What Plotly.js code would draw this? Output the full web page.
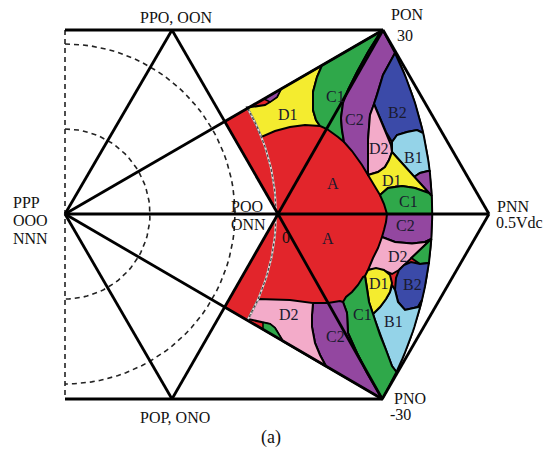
<!DOCTYPE html>
<html><head><meta charset="utf-8">
<script src="https://cdn.plot.ly/plotly-3.0.1.min.js"></script>
<style>html,body{margin:0;padding:0;background:#fff}#chart{width:545px;height:462px}</style>
</head><body><div id="chart"></div>
<script>
// ---- key vertices of the space-vector hexagon (image units, y downward) ----
const PPP = [65, 214];
const CEN = [278, 214];
const PPO = [172, 30];
const PON = [383, 30];
const PNN = [489, 214];
const PNO = [382.2, 399];
const POP = [172, 399];
const R_OUT = 367.2, R_MID = 211, R_IN1 = 85, R_IN2 = 170;

// colours
const RED = '#e2252b', YEL = '#f4ec2f', GRN = '#2fa84a', PUR = '#9347a0',
      BLU = '#3b4aa8', LBL = '#94d3e8', PNK = '#f3abc9';

function arcByY(r, y0, y1, n) {
  n = n || 24; const out = [];
  for (let i = 0; i <= n; i++) {
    const y = y0 + (y1 - y0) * i / n;
    out.push([PPP[0] + Math.sqrt(Math.max(0, r * r - (y - PPP[1]) * (y - PPP[1]))), y]);
  }
  return out;
}
function arcByAngle(r, a0, a1, n) {
  n = n || 60; const out = [];
  for (let i = 0; i <= n; i++) {
    const a = (a0 + (a1 - a0) * i / n) * Math.PI / 180;
    out.push([PPP[0] + r * Math.cos(a), PPP[1] + r * Math.sin(a)]);
  }
  return out;
}

// ---- region outlines ----
const sectorLeftTop = [224.7, 121.6];
const sectorLeftBot = [224.6, 307.2];

const upperD1 = [[247.5,107.6],[252,107],[265,105],[270,102],[277,97],[281,89],[322,65.3],[317,77],[313,92],[313,110],[316,120],[320,126],[305,125],[290,127],[275,131],[261.4,137]];
const upperPurSliver = [[264,99],[281,89],[277,97],[270,102]];
const upperC1 = [[322,65.3],[381,31.2],[368,52],[357,72],[348,90],[343,103],[341,118],[342,130],[344,142],[338,137],[327,129],[320,126],[316,120],[313,110],[313,92],[317,77]];
const upperC2tail = [[383,75],[377,95],[374,104],[370,115],[368,140],[368,175],[362,165],[352,151],[346,144],[344,142],[342,130],[341,118],[343,103],[348,90],[357,72],[368,52],[381,31.2]];
const upperB2tail = [[417,130],[407,132],[397,135],[392,142],[386,132],[380,118],[374,104],[377,95],[383,75]];
const upperD2 = [[374,104],[380,118],[386,132],[391,145],[392,152],[389,160],[385,167],[378,172],[368,175],[368,140],[370,115]];
const upperB1head = [[392,152],[392,142],[397,135],[407,132],[417,130]];
const upperB1tail = [[428,171],[420,173],[414,177]];
const upperPurRhead = [[414,177],[420,173],[428,171]];
const upperD1R = [[368,175],[378,172],[385,167],[389,160],[392,152],[429,193],[415,188],[402,186],[388,188],[380,195],[374,185]];
const upperC1Rhead = [[380,195],[388,188],[402,186],[415,188],[429,193]];
const upperC1Rtail = [[387,214],[384,204]];

const lowerC2Rtail = [[425,242],[412,243.5],[395,242],[382,237],[384,230],[386,222]];
const lowerD2R = [[382,237],[395,242],[412,243.5],[425,242],[431.3,239],[399,270],[392,274],[385,271],[376,269],[368,270],[373,258],[378,248]];
const lowerGrnRtail = [[420,264],[411.4,258]];
const lowerB2head = [[399,270],[404,265],[411,262],[420,264]];
const lowerB2tail = [[422,300],[418,307],[405,310],[398,302],[395,290],[396,278]];
const lowerD1 = [[368,270],[376,268],[384,270],[390,275],[392,283],[390,292],[386,299],[380,307],[373,314],[369,302],[367,288],[365,276]];
const lowerC1head = [[365,276],[367,288],[369,302],[373,314],[375,320],[380,335],[386,350],[392,366]];
const lowerC1tail = [[377,390],[367,373],[357,353],[348,333],[347,313],[343,302],[346,297],[352,292],[358,285],[363,277]];
const lowerB1head = [[373,314],[380,307],[386,299],[390,292],[392,285],[395,290],[398,302],[405,310],[418,307]];
const lowerB1tail = [[392,366],[386,350],[380,335],[375,320]];
const lowerC2L = [[313,303],[328,303],[340,301],[343,302],[347,313],[348,333],[357,353],[367,373],[377,390],[382.2,399],[326,366.3],[320,355],[315,343],[312,327],[312,315]];
const lowerD2L = [[258,299],[290,300],[313,303],[312,315],[312,327],[315,343],[320,355],[326,366.3],[283,341.2],[279,334],[275,328],[270,324],[263,322.5],[255,321],[248,319]];
const lowerGrnSliverL = [[263,322.5],[270,324],[275,328],[279,334],[283,341.2],[263,329.6]];

const regions = [
  [[sectorLeftTop, PON].concat(arcByY(R_OUT, 30, 399, 60), [sectorLeftBot, CEN]), RED, 1.5],
  [upperD1.concat(arcByY(R_MID, 137, 107.6, 10)), YEL, 2],
  [upperPurSliver, PUR, 1.5],
  [upperC1, GRN, 2],
  [[[382.8,30]].concat(arcByY(R_OUT, 30, 53, 8), upperC2tail), PUR, 2],
  [arcByY(R_OUT, 53, 133, 20).concat(upperB2tail), BLU, 2],
  [upperD2, PNK, 2],
  [upperB1head.concat(arcByY(R_OUT, 133, 171, 10), upperB1tail), LBL, 2],
  [upperPurRhead.concat(arcByY(R_OUT, 171, 196, 8)), PUR, 2],
  [upperD1R, YEL, 2],
  [upperC1Rhead.concat(arcByY(R_OUT, 196, 214, 6), upperC1Rtail), GRN, 2],
  [[[387,214]].concat(arcByY(R_OUT, 214, 239, 8), lowerC2Rtail), PUR, 2],
  [lowerD2R, PNK, 2],
  [arcByY(R_OUT, 239, 263, 8).concat(lowerGrnRtail), GRN, 2],
  [lowerB2head.concat(arcByY(R_OUT, 263, 294, 8), lowerB2tail), BLU, 2],
  [lowerB1head.concat(arcByY(R_OUT, 300, 372, 16), lowerB1tail), LBL, 2],
  [lowerD1, YEL, 2],
  [lowerC1head.concat(arcByY(R_OUT, 372, 399, 8), lowerC1tail), GRN, 2],
  [lowerC2L, PUR, 2],
  [lowerD2L.concat(arcByY(R_MID, 319, 299, 8)), PNK, 2],
  [lowerGrnSliverL, GRN, 1.5]
];

// structural straight lines
const segments = [
  [[65,30], PON], [[65,399], PNO], [PPP, PPO], [PPO, CEN], [PPP, POP], [POP, CEN],
  [PPP, PNN], [PPP, PON], [PPP, PNO], [CEN, PON], [CEN, PNO], [PON, PNN], [PNN, PNO]
];

// text labels
const vertexLabels = [
  ['PPO, OON', 176, 17, 'center', 16], ['POP, ONO', 175, 417, 'center', 16],
  ['PON', 389, 14, 'left', 16], ['30', 395, 35, 'left', 16],
  ['PNN', 495, 206, 'left', 16], ['0.5Vdc', 494, 222, 'left', 16],
  ['PNO', 392, 398, 'left', 16], ['-30', 388, 414, 'left', 16],
  ['PPP', 11, 202, 'left', 16], ['OOO', 11, 220, 'left', 16], ['NNN', 11, 238, 'left', 16],
  ['POO', 229, 206, 'left', 16], ['ONN', 229, 224, 'left', 16],
  ['0', 286, 237, 'center', 16], ['(a)', 271, 437, 'center', 18]
];
const regionLabels = [
  ['D1', 288, 114], ['C1', 335, 96], ['C2', 354, 119], ['A', 333, 183],
  ['B2', 397, 112], ['D2', 379, 148], ['B1', 413, 157], ['D1', 392, 180], ['C1', 408, 201],
  ['C2', 405, 225], ['A', 328, 238], ['D2', 398, 256], ['D1', 379, 283], ['B2', 412, 284],
  ['C1', 362, 314], ['B1', 393, 321], ['C2', 335, 336], ['D2', 289, 314]
];

function xs(p) { return p.map(q => q[0]); }
function ys(p) { return p.map(q => q[1]); }

const traces = [];
// dashed guides
const dashed = [ [[65,30],[65,399]], arcByAngle(R_IN1, -90, 90), arcByAngle(R_IN2, -90, 90) ];
dashed.forEach(p => traces.push({type:'scatter', mode:'lines', x:xs(p), y:ys(p), hoverinfo:'skip',
  line:{color:'#222', width:1.6, dash:'5px,4px'}}));

regions.forEach(r => {
  const p = r[0].concat([r[0][0]]);
  traces.push({type:'scatter', mode:'lines', x:xs(p), y:ys(p), fill:'toself', fillcolor:r[1],
    hoverinfo:'skip', line:{color:'#000', width:r[2]}});
});

// mid arc (dashed, light under dark)
const mid = arcByAngle(R_MID, -30, 30.3, 60);
traces.push({type:'scatter', mode:'lines', x:xs(mid), y:ys(mid), hoverinfo:'skip', line:{color:'#ddd', width:2}});
traces.push({type:'scatter', mode:'lines', x:xs(mid), y:ys(mid), hoverinfo:'skip', line:{color:'#444', width:1.2, dash:'3px,2px'}});

const sx = [], sy = [];
segments.forEach(s => { sx.push(s[0][0], s[1][0], null); sy.push(s[0][1], s[1][1], null); });
traces.push({type:'scatter', mode:'lines', x:sx, y:sy, hoverinfo:'skip', line:{color:'#000', width:2.8}});

const FONT = 'Liberation Serif, Times New Roman, serif';
const annotations = [];
vertexLabels.forEach(l => annotations.push({text:l[0], x:l[1], y:l[2], xref:'x', yref:'y', showarrow:false,
  xanchor:l[3], yanchor:'middle', font:{family:FONT, size:l[4], color:'#111'}}));
regionLabels.forEach(l => annotations.push({text:l[0], x:l[1], y:l[2], xref:'x', yref:'y', showarrow:false,
  xanchor:'center', yanchor:'middle', font:{family:FONT, size:16, color:'#1a1a2e'}}));

const layout = {
  width:545, height:462, margin:{l:0, r:0, t:0, b:0}, showlegend:false,
  paper_bgcolor:'#fff', plot_bgcolor:'#fff',
  xaxis:{range:[0,545], visible:false, fixedrange:true},
  yaxis:{range:[462,0], visible:false, fixedrange:true},
  annotations:annotations
};
Plotly.newPlot('chart', traces, layout, {displayModeBar:false, staticPlot:true});
</script>
</body></html>
